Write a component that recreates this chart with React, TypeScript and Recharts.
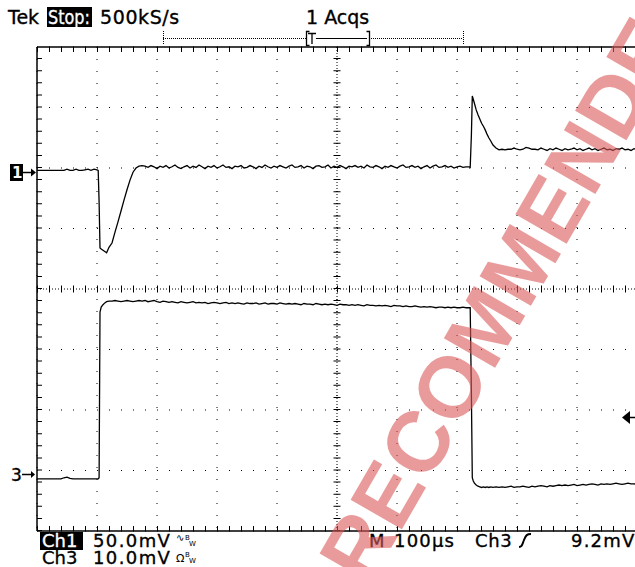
import { LineChart, Line, XAxis, YAxis, CartesianGrid, ReferenceLine } from "recharts";

// sample times (µs from left edge of screen, 100 µs/div)
const timeUs = [
  0, 5, 10, 15, 20, 25, 30, 35, 40, 45, 50, 55, 60, 65, 70, 75, 80, 85, 90, 95, 100,
  102, 103.5, 105, 107, 110, 113, 116, 120, 125, 130, 135, 140, 145, 150, 155, 160, 165, 170,
  175, 180, 185, 190, 195, 200, 205, 210, 215, 220,
  225, 230, 235, 240, 245, 250, 255, 260, 265, 270,
  275, 280, 285, 290, 295, 300, 305, 310, 315, 320,
  325, 330, 335, 340, 345, 350, 355, 360, 365, 370,
  375, 380, 385, 390, 395, 400, 405, 410, 415, 420,
  425, 430, 435, 440, 445, 450, 455, 460, 465, 470,
  475, 480, 485, 490, 495, 500, 505, 510, 515, 520,
  525, 530, 535, 540, 545, 550, 555, 560, 565, 570,
  575, 580, 585, 590, 595, 600, 605, 610, 615, 620,
  625, 630, 635, 640, 645, 650, 655, 660, 665, 670,
  675, 680, 685, 690, 695, 700, 705, 710, 715,
  720, 722, 724, 725.5, 727, 729, 732, 735, 738, 741, 744, 747, 750, 753, 756, 760, 765, 770,
  775, 780, 785, 790, 795, 800, 805, 810, 815, 820,
  825, 830, 835, 840, 845, 850, 855, 860, 865, 870,
  875, 880, 885, 890, 895, 900, 905, 910, 915, 920,
  925, 930, 935, 940, 945, 950, 955, 960, 965, 970,
  975, 980, 985, 990, 995, 1000,
];

// Ch1 trace, screen divisions from centre (50 mV/div)
const ch1Div = [
  1.96, 1.96, 1.96, 1.96, 1.96, 1.96, 1.96, 1.96, 1.96, 1.96, 1.98, 1.96, 1.96, 1.98, 1.96, 1.96, 1.97, 1.98, 1.96, 1.98, 1.97,
  1.96, 1.44, 0.68, 0.66, 0.64, 0.62, 0.6, 0.69, 0.76, 0.94, 1.11, 1.29, 1.47, 1.64, 1.8, 1.93, 2.0, 2.03,
  2.04, 2.03, 2.01, 2.04, 2.02, 1.99, 2.03, 2.01, 2.04, 2.0,
  2.02, 2.05, 2.01, 1.99, 2.02, 2.04, 2.0, 2.03, 2.01, 2.05,
  2.02, 1.99, 2.03, 2.01, 2.04, 2.0, 2.02, 2.05, 2.01, 2.02,
  1.99, 2.03, 2.02, 2.04, 2.0, 2.01, 2.04, 2.02, 1.99, 2.03,
  2.01, 2.05, 2.02, 2.0, 2.03, 2.01, 2.04, 2.02, 2.0, 2.03,
  2.05, 2.01, 2.02, 2.04, 2.0, 2.03, 2.02, 1.99, 2.03, 2.04,
  2.01, 2.02, 2.05, 2.0, 2.03, 2.01, 2.04, 2.02, 1.99, 2.03,
  2.02, 2.04, 2.01, 2.03, 2.0, 2.05, 2.02, 2.01, 2.04, 2.02,
  1.99, 2.03, 2.01, 2.04, 2.02, 2.0, 2.03, 2.05, 2.01, 2.02,
  2.04, 2.01, 2.03, 1.99, 2.02, 2.04, 2.0, 2.03, 2.05, 2.01,
  2.02, 2.04, 2.01, 2.03, 2.0, 2.02, 2.03, 2.01, 2.02,
  2.02, 2.01, 2.55, 3.19, 3.14, 3.07, 2.96, 2.88, 2.81, 2.74, 2.69, 2.63, 2.56, 2.5, 2.45, 2.38, 2.33, 2.3,
  2.31, 2.3, 2.31, 2.31, 2.33, 2.31, 2.3, 2.31, 2.34, 2.33,
  2.31, 2.31, 2.3, 2.33, 2.31, 2.29, 2.32, 2.3, 2.33, 2.31,
  2.29, 2.32, 2.3, 2.31, 2.33, 2.3, 2.32, 2.29, 2.31, 2.33,
  2.3, 2.32, 2.29, 2.31, 2.33, 2.3, 2.31, 2.29, 2.32, 2.31,
  2.33, 2.3, 2.31, 2.29, 2.32, 2.31,
];

// Ch3 trace, screen divisions from centre (10 mV/div)
const ch3Div = [
  -3.14, -3.14, -3.14, -3.14, -3.14, -3.14, -3.14, -3.14, -3.14, -3.12, -3.11, -3.13, -3.14, -3.14, -3.14, -3.14, -3.14, -3.14, -3.14, -3.14, -3.14,
  -3.14, -3.12, -0.38, -0.3, -0.26, -0.23, -0.21, -0.2, -0.2, -0.19, -0.2, -0.21, -0.2, -0.19, -0.2, -0.21, -0.2, -0.19,
  -0.2, -0.19, -0.21, -0.2, -0.19, -0.21, -0.22, -0.2, -0.21, -0.22,
  -0.21, -0.22, -0.23, -0.21, -0.22, -0.23, -0.22, -0.21, -0.23, -0.22,
  -0.23, -0.22, -0.24, -0.23, -0.22, -0.23, -0.24, -0.23, -0.22, -0.24,
  -0.23, -0.24, -0.23, -0.24, -0.25, -0.23, -0.24, -0.24, -0.23, -0.25,
  -0.24, -0.23, -0.25, -0.24, -0.24, -0.25, -0.23, -0.24, -0.25, -0.24,
  -0.25, -0.24, -0.25, -0.26, -0.24, -0.25, -0.25, -0.26, -0.24, -0.25,
  -0.26, -0.25, -0.26, -0.25, -0.26, -0.27, -0.25, -0.26, -0.26, -0.27,
  -0.26, -0.27, -0.26, -0.27, -0.28, -0.26, -0.27, -0.27, -0.28, -0.27,
  -0.28, -0.27, -0.28, -0.29, -0.27, -0.28, -0.28, -0.29, -0.28, -0.29,
  -0.29, -0.28, -0.29, -0.3, -0.29, -0.3, -0.29, -0.3, -0.31, -0.3,
  -0.3, -0.31, -0.3, -0.31, -0.3, -0.31, -0.31, -0.3, -0.31,
  -0.31, -0.31, -1.75, -3.12, -3.17, -3.21, -3.24, -3.26, -3.27, -3.28, -3.27, -3.28, -3.27, -3.28, -3.27, -3.28, -3.27, -3.28,
  -3.27, -3.28, -3.27, -3.26, -3.28, -3.27, -3.27, -3.26, -3.27, -3.28,
  -3.26, -3.27, -3.26, -3.25, -3.26, -3.27, -3.25, -3.26, -3.25, -3.24,
  -3.25, -3.24, -3.25, -3.24, -3.23, -3.25, -3.24, -3.23, -3.24, -3.23,
  -3.22, -3.23, -3.24, -3.22, -3.23, -3.22, -3.23, -3.22, -3.21, -3.22,
  -3.23, -3.22, -3.21, -3.22, -3.22, -3.23,
];

const divX = [0, 100, 200, 300, 400, 500, 600, 700, 800, 900, 1000];
const divY = [-4, -3, -2, -1, 0, 1, 2, 3, 4];

const data = timeUs.map((t, i) => ({ t, ch1: ch1Div[i], ch3: ch3Div[i] }));

const FONT = "DejaVu Sans, sans-serif";
const PX_X = 100 / 60; // µs per pixel
const PX_Y = 1 / 60.5; // div per pixel

// scope-style text: slightly heavier than the plain font
const ink = { stroke: "#000", strokeWidth: 0.35 };
const inkWhite = { stroke: "#fff", strokeWidth: 0.35, fill: "#fff" };

function Overlay() {
  return (
    <svg
      width={635}
      height={567}
      style={{ position: "absolute", left: 0, top: 0, pointerEvents: "none" }}
      fontFamily={FONT}
    >
      {/* header */}
      <text x={8} y={24} fontSize={19} {...ink}>Tek</text>
      <rect x={47} y={7} width={45} height={20} fill="#000" />
      <text x={48} y={24} fontSize={19} textLength={42} lengthAdjust="spacingAndGlyphs" {...inkWhite}>Stop:</text>
      <text x={100} y={24} fontSize={19} letterSpacing={0.6} {...ink}>500kS/s</text>
      <text x={306} y={24} fontSize={19} {...ink}>1 Acqs</text>

      {/* record bar */}
      <line x1={163} y1={38.5} x2={306} y2={38.5} stroke="#000" strokeDasharray="1 1" />
      <line x1={369} y1={38.5} x2={463} y2={38.5} stroke="#000" strokeDasharray="1 1" />
      <line x1={163.5} y1={31} x2={163.5} y2={45} stroke="#000" strokeDasharray="1 1" />
      <line x1={463.5} y1={31} x2={463.5} y2={45} stroke="#000" strokeDasharray="1 1" />
      <path d="M309.5,31.5 H306.5 V45.5 H309.5" fill="none" stroke="#000" strokeWidth={1.3} />
      <path d="M308,33.5 H316 M312,33.5 V44" fill="none" stroke="#000" strokeWidth={1.3} />
      <line x1={316} y1={38.5} x2={367} y2={38.5} stroke="#000" strokeWidth={1} />
      <path d="M366.5,31.5 H369.5 V45.5 H366.5" fill="none" stroke="#000" strokeWidth={1.3} />

      {/* channel ground markers */}
      <rect x={10} y={164} width={13} height={17} fill="#000" />
      <text x={12} y={178} fontSize={15} fontWeight="bold" fill="#fff">1</text>
      <line x1={23} y1={172.5} x2={32} y2={172.5} stroke="#000" strokeWidth={1.5} />
      <path d="M31,168.5 L36,172.5 L31,176.5 Z" fill="#000" />

      <text x={11} y={481} fontSize={17} {...ink}>3</text>
      <line x1={22} y1={474.5} x2={32} y2={474.5} stroke="#000" strokeWidth={1.5} />
      <path d="M31,471 L35,474.5 L31,478 Z" fill="#000" />

      {/* trigger level */}
      <path d="M622,417.5 L630,411 L630,424 Z" fill="#000" />
      <line x1={629} y1={417.5} x2={635} y2={417.5} stroke="#000" strokeWidth={1.5} />

      {/* footer */}
      <rect x={40} y={532} width={43} height={18} fill="#000" />
      <text x={42} y={547} fontSize={18} {...inkWhite}>Ch1</text>
      <text x={93} y={547} fontSize={18} letterSpacing={1.4} {...ink}>50.0mV</text>
      <text x={176} y={541} fontSize={10}>∿</text>
      <text x={185} y={540} fontSize={7}>B</text>
      <text x={189} y={546} fontSize={7}>W</text>

      <text x={42} y={564} fontSize={18} {...ink}>Ch3</text>
      <text x={93} y={564} fontSize={18} letterSpacing={1.4} {...ink}>10.0mV</text>
      <text x={176} y={562} fontSize={11}>Ω</text>
      <text x={185} y={557} fontSize={7}>B</text>
      <text x={189} y={563} fontSize={7}>W</text>

      <text x={369} y={547} fontSize={18} {...ink}>M</text>
      <text x={394} y={547} fontSize={18} letterSpacing={1.2} {...ink}>100µs</text>
      <text x={475} y={547} fontSize={18} letterSpacing={0.6} {...ink}>Ch3</text>
      <path d="M519,547 C522,547 522,545 524,540 C526,535 527,534 531,534" fill="none" stroke="#000" strokeWidth={2} />
      <text x={571} y={547} fontSize={18} letterSpacing={1.2} {...ink}>9.2mV</text>

      {/* watermark */}
      <text
        x={368}
        y={588}
        transform="rotate(-60 368 588)"
        fontSize={86}
        fontWeight="bold"
        fontFamily="Liberation Sans, Arial, sans-serif"
        fill="#dc5a5a"
        opacity={0.6}
      >
        RECOMMENDED
      </text>
    </svg>
  );
}

export default function App() {
  return (
    <div
      style={{
        position: "absolute",
        left: 0,
        top: 0,
        width: 635,
        height: 567,
        overflow: "hidden",
        background: "#fff",
      }}
    >
      <LineChart
        width={640}
        height={567}
        data={data}
        margin={{ top: 47, left: 37, right: 3, bottom: 36 }}
      >
        <XAxis dataKey="t" type="number" domain={[0, 1000]} ticks={divX} hide />
        <YAxis type="number" domain={[-4, 4]} ticks={divY} hide />
        <CartesianGrid stroke="#000" strokeDasharray="1 11" />

        {/* centre crosshair with minor ticks */}
        <ReferenceLine y={0} stroke="#000" strokeDasharray="1 2" />
        <ReferenceLine y={0} stroke="#000" strokeWidth={7} strokeDasharray="1 11" />
        <ReferenceLine x={500} stroke="#000" strokeDasharray="1 2" />
        <ReferenceLine x={500} stroke="#000" strokeWidth={7} strokeDasharray="1 11.1" />

        {/* frame with inward ticks */}
        <ReferenceLine y={4} stroke="#000" strokeWidth={1.5} />
        <ReferenceLine y={-4} stroke="#000" strokeWidth={1.5} />
        <ReferenceLine x={0} stroke="#000" strokeWidth={1.5} />
        <ReferenceLine y={4 - 2.5 * PX_Y} stroke="#000" strokeWidth={5} strokeDasharray="1 11" />
        <ReferenceLine y={-4 + 2.5 * PX_Y} stroke="#000" strokeWidth={5} strokeDasharray="1 11" />
        <ReferenceLine x={2.5 * PX_X} stroke="#000" strokeWidth={5} strokeDasharray="1 11.1" />

        <Line
          dataKey="ch1"
          type="linear"
          stroke="#000"
          strokeWidth={1.3}
          dot={false}
          isAnimationActive={false}
        />
        <Line
          dataKey="ch3"
          type="linear"
          stroke="#000"
          strokeWidth={1.3}
          dot={false}
          isAnimationActive={false}
        />
      </LineChart>
      <Overlay />
    </div>
  );
}
